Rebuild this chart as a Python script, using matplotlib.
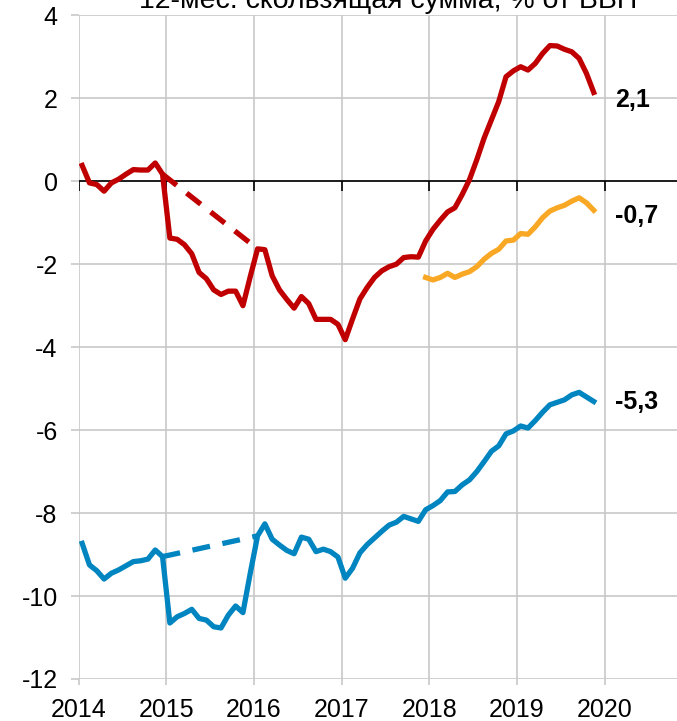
import matplotlib
matplotlib.use("Agg")
import matplotlib.pyplot as plt
import numpy as np

plt.rcParams['font.family'] = ['Liberation Sans', 'DejaVu Sans']
plt.rcParams['axes.unicode_minus'] = False

# monthly values, Jan 2014 .. Nov 2019
red_vals = [0.38, -0.04, -0.08, -0.24, -0.04, 0.05, 0.17, 0.28, 0.27, 0.27, 0.44, 0.17,
            -1.37, -1.40, -1.53, -1.75, -2.20, -2.35, -2.62, -2.73, -2.65, -2.65, -3.00, -2.30,
            -1.63, -1.65, -2.28, -2.62, -2.85, -3.06, -2.78, -2.95, -3.33, -3.33, -3.33, -3.45,
            -3.82, -3.32, -2.84, -2.56, -2.32, -2.16, -2.06, -2.00, -1.84, -1.82, -1.83, -1.44,
            -1.16, -0.94, -0.74, -0.64, -0.32, 0.04, 0.52, 1.04, 1.48, 1.92, 2.52, 2.66,
            2.76, 2.68, 2.84, 3.08, 3.27, 3.26, 3.18, 3.12, 2.96, 2.60, 2.14]
blue_vals = [-8.73, -9.25, -9.39, -9.59, -9.45, -9.37, -9.27, -9.17, -9.15, -9.11, -8.89, -9.05,
             -10.65, -10.50, -10.42, -10.32, -10.54, -10.58, -10.74, -10.77, -10.46, -10.24, -10.40, -9.45,
             -8.55, -8.26, -8.63, -8.77, -8.90, -8.98, -8.58, -8.63, -8.93, -8.87, -8.93, -9.06,
             -9.57, -9.33, -8.96, -8.76, -8.60, -8.44, -8.29, -8.22, -8.08, -8.14, -8.20, -7.92,
             -7.82, -7.70, -7.49, -7.48, -7.32, -7.20, -7.00, -6.76, -6.51, -6.38, -6.09, -6.02,
             -5.90, -5.95, -5.77, -5.57, -5.39, -5.33, -5.27, -5.15, -5.09, -5.20, -5.31]
# Dec 2017 .. Nov 2019
orange_vals = [-2.32, -2.38, -2.32, -2.22, -2.32, -2.24, -2.18, -2.06, -1.88, -1.74, -1.64, -1.44,
               -1.42, -1.26, -1.28, -1.10, -0.88, -0.72, -0.64, -0.58, -0.48, -0.40, -0.52, -0.70]
orange_start = 47
# dashed bridges Dec 2014 -> Jan 2016
bridge_idx = [11, 24]

end_labels = ['2,1', '-0,7', '-5,3']
label_y = [1.95, -0.85, -5.33]
years = [2014, 2015, 2016, 2017, 2018, 2019, 2020]
yticks = [4, 2, 0, -2, -4, -6, -8, -10, -12]

red = '#c00000'
blue = '#0085c0'
orange = '#f9a825'

dates = 2014 + (np.arange(len(red_vals)) + 0.5) / 12.0
odates = dates[orange_start:orange_start + len(orange_vals)]

fig = plt.figure(figsize=(6.77, 7.21), dpi=100)
ax = fig.add_axes([78.5 / 677, 42 / 721, 1 - 78.5 / 677, (679 - 15.3) / 721])

ax.set_xlim(2014, 2014 + (677 - 78.5) / 87.7)
ax.set_ylim(-12, 4)
ax.set_xticks(years)
ax.set_yticks(yticks)
ax.grid(True, color='#c8c8c8', lw=1.2, zorder=0)
ax.set_axisbelow(True)
for s in ax.spines.values():
    s.set_visible(False)
ax.tick_params(axis='y', length=6, color='#c8c8c8', width=1.2, pad=9, labelsize=18)
ax.tick_params(axis='x', length=4, color='#c8c8c8', width=1.2, pad=10, labelsize=18)

ax.axhline(0, color='black', lw=1.2, zorder=1)
ax.plot(years, [0] * len(years), ls='none', marker=3, ms=7, mew=1.2, color='black', zorder=1)

ax.plot(dates, red_vals, color=red, lw=3.8, solid_joinstyle='round', zorder=3)
ax.plot(dates, blue_vals, color=blue, lw=3.8, solid_joinstyle='round', zorder=3)
ax.plot(odates, orange_vals, color=orange, lw=3.8, solid_joinstyle='round', zorder=3)

ax.plot(dates[bridge_idx], [red_vals[i] for i in bridge_idx], color=red, lw=3.8,
        dashes=(3.4, 2.4), zorder=2)
ax.plot(dates[bridge_idx], [blue_vals[i] for i in bridge_idx], color=blue, lw=3.8,
        dashes=(3.4, 2.4), zorder=2)

lx = 2014 + (615 - 78.5) / 87.7
for txt, yy in zip(end_labels, label_y):
    ax.text(lx, yy, txt, fontsize=18, fontweight='bold', ha='left', va='center')

# title sits above the frame and is clipped, as in the source
fig.text(0.573, (721 - 8) / 721, '12-мес. скользящая сумма, % от ВВП', fontsize=20.5,
         ha='center', va='baseline')

fig.savefig('out.png', dpi=100)
